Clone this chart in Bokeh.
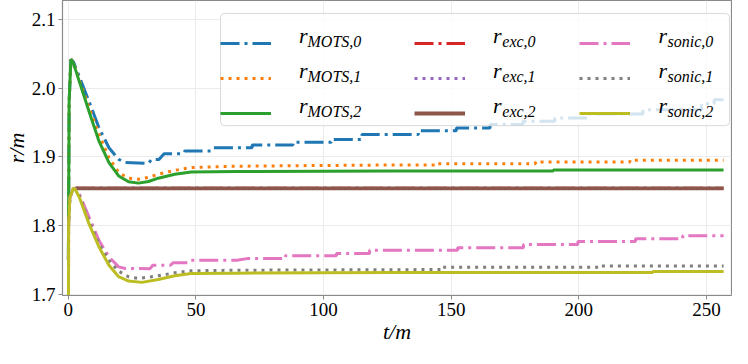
from bokeh.plotting import figure
from bokeh.models import (Range1d, FixedTicker, Legend, LegendItem, Label, BasicTickFormatter,
                          BoxAnnotation)
from bokeh.embed import file_html
from bokeh.resources import INLINE

# ---------------- data (t/m, r/m) ----------------
mots0 = [(0.0, 1.75), (0.3, 1.98), (1.0, 2.042), (2.0, 2.038), (4.3, 2.0166), (8.1, 1.9805),
         (12.0, 1.942), (15.9, 1.9131), (19.7, 1.8962), (22.3, 1.8915), (31.4, 1.8905),
         (32.6, 1.896), (35.5, 1.896), (37.5, 1.9045), (45.0, 1.9045), (45.6, 1.9083),
         (56.0, 1.9083), (57.0, 1.9131), (72.0, 1.9131), (72.0, 1.917), (88.0, 1.917),
         (88.0, 1.921), (103.0, 1.921), (103.0, 1.925), (115.0, 1.925), (115.0, 1.9324),
         (137.1, 1.9324), (137.1, 1.938), (152.0, 1.938), (152.0, 1.942), (165.2, 1.942),
         (165.2, 1.9468), (178.1, 1.9468), (178.1, 1.9516), (190.6, 1.9516), (190.6, 1.9565),
         (203.8, 1.9565), (203.8, 1.9623), (225.1, 1.9623), (225.1, 1.9685), (248.0, 1.9685),
         (248.0, 1.977), (253.0, 1.977), (253.0, 1.983), (256.7, 1.983)]
mots1 = [(0.0, 1.75), (0.3, 1.98), (1.0, 2.042), (2.0, 2.037), (4.3, 2.011), (8.1, 1.972),
         (12.0, 1.9324), (15.9, 1.8987), (19.7, 1.877), (23.6, 1.8688), (27.5, 1.8673),
         (31.4, 1.870), (35.2, 1.8746), (41.7, 1.8803), (48.1, 1.8842), (63.0, 1.8861),
         (90.0, 1.887), (127.0, 1.888), (144.0, 1.888), (144.0, 1.890), (183.0, 1.890),
         (183.0, 1.8925), (220.0, 1.8925), (220.0, 1.895), (256.7, 1.895)]
mots2 = [(0.0, 1.75), (0.3, 1.98), (1.0, 2.042), (2.0, 2.036), (4.3, 2.0094), (8.1, 1.966),
         (12.0, 1.9227), (15.9, 1.8915), (19.7, 1.872), (23.6, 1.8635), (27.5, 1.8616),
         (31.4, 1.864), (35.2, 1.8688), (41.7, 1.8746), (48.1, 1.8779), (66.0, 1.8785),
         (127.0, 1.8793), (190.0, 1.8793), (190.0, 1.8808), (256.7, 1.8808)]
exc0 = [(2.8, 1.854), (256.7, 1.854)]
exc1 = [(2.8, 1.854), (256.7, 1.854)]
exc2 = [(2.8, 1.854), (256.7, 1.854)]
sonic0 = [(0.0, 1.60), (0.1, 1.80), (0.6, 1.840), (1.9, 1.8543), (2.6, 1.853), (4.3, 1.8457),
          (8.1, 1.812), (12.0, 1.7782), (15.9, 1.7542), (19.7, 1.7397), (22.3, 1.7373),
          (32.0, 1.737), (33.0, 1.742), (40.0, 1.742), (41.0, 1.7455), (47.0, 1.7455),
          (48.0, 1.7493), (66.0, 1.7493), (70.0, 1.7517), (85.0, 1.7517), (85.0, 1.756),
          (105.0, 1.756), (105.0, 1.759), (118.0, 1.759), (118.0, 1.7637), (152.5, 1.7637),
          (152.5, 1.7676), (178.3, 1.7676), (178.3, 1.7724), (199.6, 1.7724), (199.6, 1.7767),
          (222.2, 1.7767), (222.2, 1.7806), (240.7, 1.7806), (240.7, 1.785), (256.7, 1.785)]
sonic1 = [(0.0, 1.60), (0.1, 1.80), (0.6, 1.840), (1.9, 1.8543), (2.6, 1.853), (4.3, 1.843),
          (8.1, 1.806), (12.0, 1.773), (15.9, 1.7493), (19.7, 1.7334), (23.6, 1.7253),
          (27.5, 1.7228), (35.2, 1.7267), (41.7, 1.7311), (48.1, 1.734), (66.0, 1.7348),
          (146.0, 1.7358), (146.0, 1.7392), (209.0, 1.7392), (209.0, 1.741), (256.7, 1.741)]
sonic2 = [(0.0, 1.60), (0.1, 1.80), (0.6, 1.840), (1.9, 1.8543), (2.6, 1.853), (4.3, 1.8409),
          (8.1, 1.8023), (12.0, 1.7686), (15.9, 1.742), (19.7, 1.7253), (23.6, 1.719),
          (28.8, 1.7171), (35.2, 1.7214), (41.7, 1.7267), (48.1, 1.730), (66.0, 1.7305),
          (127.0, 1.7315), (229.0, 1.7315), (229.0, 1.733), (256.7, 1.733)]

groups = ["MOTS", "exc", "sonic"]
indices = ["0", "1", "2"]
x_ticks = [0, 50, 100, 150, 200, 250]
y_ticks = [1.7, 1.8, 1.9, 2.0, 2.1]
y_tick_labels = ["1.7", "1.8", "1.9", "2.0", "2.1"]

# ---------------- styles ----------------
colors = ["#1f77b4", "#ff7f0e", "#2ca02c", "#d62728", "#9467bd", "#8c564b",
          "#e377c2", "#7f7f7f", "#bcbd22"]
dashes = ["19 5 3 5", "3 5", "solid"] * 3
widths = [3, 3, 3, 3, 3, 3.8, 3, 3, 3]
FONT = "Liberation Serif"
FRAME_H = 295
GRAY = "#8a8a8a"

p = figure(width=732, height=348, output_backend="svg", toolbar_location=None,
           x_range=Range1d(-2.3, 259.8), y_range=Range1d(1.698, 2.1275),
           min_border_left=55, min_border_right=1, min_border_top=0, min_border_bottom=53,
           background_fill_color="white", border_fill_color="white")
p.outline_line_color = GRAY
p.outline_line_width = 1.2
for g in (p.xgrid, p.ygrid):
    g.grid_line_color = "#ebebeb"
    g.grid_line_width = 1

p.xaxis.ticker = FixedTicker(ticks=x_ticks)
p.yaxis.ticker = FixedTicker(ticks=y_ticks)
p.yaxis.formatter = BasicTickFormatter(precision=1)
p.yaxis.major_label_overrides = {v: s for v, s in zip(y_ticks, y_tick_labels)}
p.xaxis.axis_label = "t/m"
p.yaxis.axis_label = "r/m"
for ax in (p.xaxis[0], p.yaxis[0]):
    ax.axis_line_color = GRAY
    ax.major_tick_line_color = GRAY
    ax.major_tick_out = 4
    ax.major_tick_in = 0
    ax.minor_tick_line_color = None
    ax.major_label_text_font = FONT
    ax.major_label_text_font_size = "19px"
    ax.major_label_text_color = "black"
    ax.major_label_standoff = 3
    ax.axis_label_text_font = FONT
    ax.axis_label_text_font_style = "italic"
    ax.axis_label_text_font_size = "22px"
    ax.axis_label_text_color = "black"
    ax.axis_label_standoff = 0

series = [mots0, mots1, mots2, exc0, exc1, exc2, sonic0, sonic1, sonic2]
renderers = []
for data, c, d, w in zip(series, colors, dashes, widths):
    xs = [a for a, b in data]
    ys = [b for a, b in data]
    renderers.append(p.line(xs, ys, line_color=c, line_width=w, line_dash=d))

# ---------------- legend (3 columns on one shared box) ----------------
def ry(y_ref):
    # reference pixel row -> frame-relative screen y (from bottom)
    return FRAME_H - (y_ref - 5) * FRAME_H / 297.0

box = BoxAnnotation(left=158, right=667, bottom=ry(131), top=ry(18),
                    left_units="screen", right_units="screen",
                    bottom_units="screen", top_units="screen",
                    fill_color="white", fill_alpha=0.8,
                    line_color="#d9d9d9", line_width=1, line_alpha=1, level="annotation")
if "border_radius" in BoxAnnotation.properties():
    box.border_radius = 4
p.add_layout(box)

leg_bottom = ry(131)
col_left = [158, 351.5, 517]
for ci in range(3):
    items = [LegendItem(label=" ", renderers=[renderers[3 * ci + k]]) for k in range(3)]
    lg = Legend(items=items, location=(col_left[ci], leg_bottom), orientation="vertical",
                padding=9, spacing=11, glyph_width=51, glyph_height=24, label_height=24,
                label_standoff=0, label_width=10, label_text_font_size="6px", margin=0,
                border_line_color=None, background_fill_alpha=0)
    p.add_layout(lg, "center")

r_x = [301.4, 495.5, 661.0]
sub_x = [310.0, 504.8, 670.0]
r_base = [40.7, 75.9, 111.1]
sub_base = [46.5, 81.7, 116.9]
for ci, grp in enumerate(groups):
    for ri, idx in enumerate(indices):
        p.add_layout(Label(x=r_x[ci] - 65, y=ry(r_base[ri]), x_units="screen", y_units="screen",
                           text="r", text_font=FONT, text_font_style="italic",
                           text_font_size="22px", text_baseline="alphabetic", text_align="left",
                           text_color="black", level="overlay"))
        p.add_layout(Label(x=sub_x[ci] - 65, y=ry(sub_base[ri]), x_units="screen", y_units="screen",
                           text=grp + "," + idx, text_font=FONT, text_font_style="italic",
                           text_font_size="16px", text_baseline="alphabetic", text_align="left",
                           text_color="black", level="overlay"))

open("out.html", "w").write(file_html(p, INLINE))
